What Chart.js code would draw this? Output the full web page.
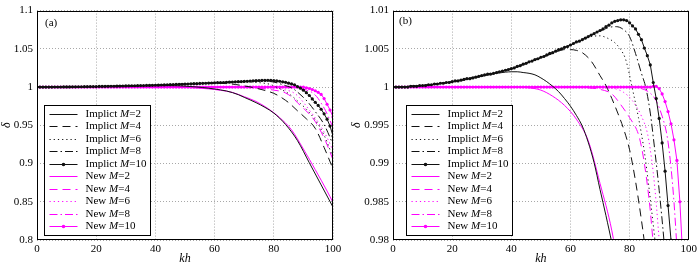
<!DOCTYPE html>
<html>
<head>
<meta charset="utf-8">
<script src="https://cdn.jsdelivr.net/npm/chart.js@4.4.0/dist/chart.umd.min.js"></script>
<style>
  html, body { margin: 0; padding: 0; background: #fff; }
  .wrap { display: flex; width: 700px; height: 266px; }
  .panel { position: relative; width: 350px; height: 266px; }
</style>
</head>
<body>
<div class="wrap">
  <div class="panel"><canvas id="chartA"></canvas></div>
  <div class="panel"><canvas id="chartB"></canvas></div>
</div>
<script>
// kh grid used by the two marked (M=10) series
const khGrid = [0,1,2,3,4,5,6,7,8,9,10,11,12,13,14,15,16,17,18,19,20,21,22,23,24,25,26,27,28,29,
  30,31,32,33,34,35,36,37,38,39,40,41,42,43,44,45,46,47,48,49,50,51,52,53,54,55,56,57,58,59,
  60,61,62,63,64,65,66,67,68,69,70,71,72,73,74,75,76,77,78,79,80,81,82,83,84,85,86,87,88,89,
  90,91,92,93,94,95,96,97,98,99,100];

const imp10D = [1.0000,1.0000,1.0000,1.0000,1.0000,1.0000,1.0001,1.0001,1.0001,1.0002,
  1.0002,1.0002,1.0003,1.0003,1.0004,1.0004,1.0005,1.0005,1.0006,1.0006,
  1.0007,1.0008,1.0008,1.0009,1.0010,1.0011,1.0011,1.0012,1.0013,1.0014,
  1.0015,1.0016,1.0017,1.0017,1.0018,1.0019,1.0020,1.0021,1.0022,1.0023,
  1.0024,1.0025,1.0027,1.0028,1.0030,1.0031,1.0033,1.0034,1.0036,1.0037,
  1.0039,1.0040,1.0042,1.0044,1.0045,1.0047,1.0049,1.0050,1.0052,1.0053,
  1.0055,1.0057,1.0059,1.0060,1.0062,1.0064,1.0066,1.0068,1.0070,1.0072,
  1.0074,1.0076,1.0079,1.0081,1.0084,1.0086,1.0087,1.0088,1.0088,1.0087,
  1.0084,1.0080,1.0076,1.0069,1.0062,1.0051,1.0041,1.0029,1.0006,0.9985,
  0.9959,0.9927,0.9890,0.9845,0.9800,0.9760,0.9710,0.9650,0.9580,0.9490,0.9360];

const new10D = [1,1,1,1,1,1,1,1,1,1,1,1,1,1,1,1,1,1,1,1,
  1,1,1,1,1,1,1,1,1,1,1,1,1,1,1,1,1,1,1,1,
  1,1,1,1,1,1,1,1,1,1,1,1,1,1,1,1,1,1,1,1,
  1,1,1,1,1,1,1,1,1,1,1,1,1,1,1,1,1,1,1,1,
  1,1,1,1,1,1,1,1,1.0001,1.0001,
  0.9998,0.9991,0.9981,0.9968,0.9952,0.9931,0.9904,0.9850,0.9775,0.9700,0.9610];

// other curves, read at selected kh
const imp2Kh = [0,10,20,30,35,38,40,42,44,46,48,50,52,54,56,58,60,62,64,66,68,70,72,74,77,80,84,88,92,96,100];
const imp2D  = [1.0000,1.0002,1.0007,1.0014,1.0018,1.00195,1.0020,1.0020,1.0019,1.0018,1.0016,1.0012,1.0007,1.0001,0.9994,0.9985,0.9975,0.9963,0.9949,0.9928,0.9901,0.9866,0.9832,0.9796,0.9735,0.9660,0.9510,0.9300,0.9010,0.8720,0.8430];

const imp4Kh = [0,10,20,30,40,45,50,54,56,58,60,62,64,67,70,72,74,76,78,80,82,84,85,88,91,94,97,100];
const imp4D  = [1.0000,1.0002,1.0007,1.0015,1.0024,1.0031,1.0038,1.0044,1.0047,1.0049,1.0049,1.0048,1.0045,1.0034,1.0015,1.0002,0.9985,0.9966,0.9945,0.9918,0.9877,0.9826,0.9797,0.9690,0.9585,0.9460,0.9210,0.8930];

const imp6Kh = [0,10,20,30,40,50,60,64,67,70,72.5,75,77,78.5,79.5,80.5,81,83,85,86.5,88,89,91,94,97,100];
const imp6D  = [1.0000,1.0002,1.0007,1.0015,1.0024,1.0039,1.0055,1.0062,1.0066,1.0067,1.0064,1.0058,1.0049,1.0038,1.0024,1.0006,0.9997,0.9960,0.9915,0.9870,0.9820,0.9785,0.9710,0.9570,0.9370,0.9080];

const imp8Kh = [0,10,20,30,40,50,60,66,70,73,75.5,78,80,82,84,85.5,87,88.5,90,91.6,94,97,100];
const imp8D  = [1.0000,1.0002,1.0007,1.0015,1.0024,1.0039,1.0055,1.0066,1.0073,1.0078,1.0079,1.0075,1.0066,1.0044,1.0018,0.9999,0.9966,0.9918,0.9865,0.9800,0.9680,0.9510,0.9250];

const new2Kh = [0,40,46,50,54,58,62,66,70,74,78,82,86,90,94,98,100];
const new2D  = [1.0000,1.0000,0.9999,0.9996,0.9988,0.9976,0.9958,0.9930,0.9874,0.9812,0.9720,0.9600,0.9440,0.9190,0.8920,0.8640,0.8490];

const new4Kh = [0,60,66,70,74,77,80,83,84,85,86,87,88,90,94,97.5,100];
const new4D  = [1.0000,1.0000,0.9999,0.9997,0.9991,0.9977,0.9960,0.9938,0.9922,0.9900,0.9872,0.9838,0.9795,0.9725,0.9550,0.9290,0.9050];

const new6Kh = [0,70,75,78,81,84,86,87,88,89,90,92,95,98,100];
const new6D  = [1.0000,1.0000,0.9998,0.9993,0.9982,0.9962,0.9940,0.9918,0.9888,0.9848,0.9800,0.9700,0.9540,0.9340,0.9170];

const new8Kh = [0,80,84,87,89,91,92.5,93,94,95,96,97.5,100];
const new8D  = [1.0000,1.0000,0.9998,0.9992,0.9982,0.9962,0.9940,0.9928,0.9895,0.9850,0.9790,0.9690,0.9470];

const legendNames = ['Implict','Implict','Implict','Implict','Implict','New','New','New','New','New'];
const legendM = [2,4,6,8,10,2,4,6,8,10];

const xTicks = [0,20,40,60,80,100];

function pts(kh, d) { return kh.map((k, i) => ({x: k, y: d[i]})); }

const BLACK = '#111';
const MAG = '#ff00ff';

function makeDatasets() {
  const curves = [
    pts(imp2Kh, imp2D), pts(imp4Kh, imp4D), pts(imp6Kh, imp6D), pts(imp8Kh, imp8D), imp10D,
    pts(new2Kh, new2D), pts(new4Kh, new4D), pts(new6Kh, new6D), pts(new8Kh, new8D), new10D
  ];
  const dashes = [[], [8,5], [1.2,3], [8,3,1.5,3], []];
  return curves.map((c, i) => {
    const color = i < 5 ? BLACK : MAG;
    const marked = (i % 5) === 4;
    return {
      label: legendNames[i] + ' M=' + legendM[i],
      data: c,
      borderColor: color,
      backgroundColor: color,
      borderWidth: 1,
      borderDash: dashes[i % 5],
      pointRadius: marked ? 1.6 : 0,
      pointBorderWidth: 0,
      pointBackgroundColor: color,
      cubicInterpolationMode: marked ? 'default' : 'monotone',
      tension: 0,
      fill: false
    };
  });
}

const decor = {
  id: 'decor',
  afterDraw(chart, args, opts) {
    const {ctx, chartArea: a} = chart;
    ctx.save();
    ctx.setLineDash([]);
    ctx.strokeStyle = '#000';
    ctx.lineWidth = 1;
    ctx.strokeRect(Math.round(a.left) + 0.5, Math.round(a.top) + 0.5,
      Math.round(a.right - a.left) - 1, Math.round(a.bottom - a.top) - 1);

    ctx.fillStyle = '#000';
    ctx.font = '11px "Liberation Serif"';
    ctx.textBaseline = 'middle';
    ctx.textAlign = 'left';
    ctx.fillText(opts.tag, a.left + opts.tagDx, a.top + opts.tagDy);

    // legend box
    const x0 = Math.round(a.left + opts.legDx) + 0.5;
    const y0 = 105.5, w = 106, h = 130;
    ctx.fillStyle = '#fff';
    ctx.fillRect(x0, y0, w, h);
    ctx.strokeRect(x0, y0, w, h);
    chart.data.datasets.forEach((ds, i) => {
      const y = Math.round(y0 + 8 + i * 12.52) + 0.5;
      ctx.strokeStyle = ds.borderColor;
      ctx.lineWidth = 1;
      ctx.setLineDash(ds.borderDash);
      ctx.beginPath();
      ctx.moveTo(x0 + 5, y);
      ctx.lineTo(x0 + 33, y);
      ctx.stroke();
      ctx.setLineDash([]);
      if (ds.pointRadius > 0) {
        ctx.fillStyle = ds.borderColor;
        ctx.beginPath();
        ctx.arc(x0 + 19, y, 1.8, 0, Math.PI * 2);
        ctx.fill();
      }
      ctx.fillStyle = '#000';
      let tx = x0 + 41;
      ctx.font = '11px "Liberation Serif"';
      const t1 = legendNames[i] + ' ';
      ctx.fillText(t1, tx, y);
      tx += ctx.measureText(t1).width;
      ctx.font = 'italic 11px "Liberation Serif"';
      ctx.fillText('M', tx, y);
      tx += ctx.measureText('M').width;
      ctx.font = '11px "Liberation Serif"';
      ctx.fillText('=' + legendM[i], tx, y);
    });
    ctx.restore();
  }
};

function makeChart(id, yMin, yMax, yStep, yAxisW, padRight, tag, tagDx, tagDy, legDx) {
  const font = {family: '"Liberation Serif"', size: 11};
  return new Chart(document.getElementById(id), {
    type: 'line',
    data: { labels: khGrid, datasets: makeDatasets() },
    options: {
      responsive: true,
      maintainAspectRatio: false,
      animation: false,
      events: [],
      layout: { padding: { top: 7, right: padRight, left: 0, bottom: 0 } },
      plugins: {
        legend: { display: false },
        tooltip: { enabled: false },
        decor: { tag: tag, tagDx: tagDx, tagDy: tagDy, legDx: legDx }
      },
      scales: {
        x: {
          type: 'linear',
          min: 0, max: 100,
          afterBuildTicks: s => { s.ticks = xTicks.map(v => ({value: v})); },
          afterFit: s => { s.height = 26; },
          ticks: { color: '#000', font: font, padding: 3, maxRotation: 0 },
          grid: { color: '#a8a8a8', drawTicks: false, lineWidth: 1 },
          border: { display: false, dash: [1, 2] },
          title: { display: true, text: 'kh', color: '#000', padding: 0,
                   font: {family: '"Liberation Serif"', size: 12, style: 'italic'} }
        },
        y: {
          type: 'linear',
          min: yMin, max: yMax,
          afterFit: s => { s.width = yAxisW; },
          ticks: { color: '#000', font: font, padding: 4, stepSize: yStep,
                   callback: v => String(parseFloat(Number(v).toFixed(4))) },
          grid: { color: '#a8a8a8', drawTicks: false, lineWidth: 1 },
          border: { display: false, dash: [1, 2] },
          title: { display: true, text: 'δ', color: '#000', padding: 0,
                   font: {family: '"Liberation Serif"', size: 12, style: 'italic'} }
        }
      }
    },
    plugins: [decor]
  });
}

makeChart('chartA', 0.8, 1.1, 0.05, 37, 17, '(a)', 8, 13, 7);
makeChart('chartB', 0.98, 1.01, 0.005, 43, 10, '(b)', 6, 11, 13);
</script>
</body>
</html>
